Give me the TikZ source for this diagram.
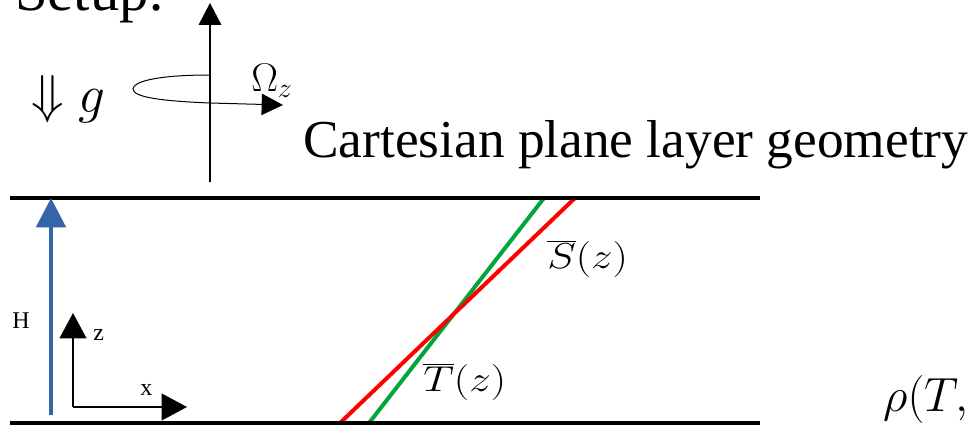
\RequirePackage{fix-cm}
\documentclass[tikz,border=0pt]{standalone}
\usepackage{fontspec}
\setmainfont{Liberation Serif}
\usetikzlibrary{arrows.meta}
\definecolor{hblue}{RGB}{54,100,168}
\definecolor{sgreen}{RGB}{0,166,60}
\definecolor{tred}{RGB}{255,0,0}
\begin{document}
\begin{tikzpicture}[x=0.75pt,y=-0.75pt,
  plate/.style={line width=3pt,black},
  profile/.style={line width=3pt,line cap=butt},
  harrow/.style={line width=3pt,hblue,-{Triangle[width=22pt,length=22pt]}},
  axisarrow/.style={line width=1.5pt,-{Triangle[width=20pt,length=19pt]}},
  rotaxis/.style={line width=1pt,-{Triangle[width=17pt,length=16.5pt]}},
  rotloop/.style={line width=0.75pt,-{Triangle[width=16pt,length=16pt]}},
  lbl/.style={inner sep=0pt,anchor=base west}]
\useasboundingbox (0,0) rectangle (977,428);
\clip (0,0) rectangle (977,428);
% coordinates
\coordinate (tl) at (10,198); \coordinate (tr) at (760,198);
\coordinate (bl) at (10,423); \coordinate (br) at (760,423);
\coordinate (hb) at (51,415); \coordinate (ht) at (51,198);
\coordinate (o) at (73,407); \coordinate (zt) at (73,313); \coordinate (xt) at (187,407);
\coordinate (rb) at (210,182); \coordinate (rt) at (210,3);
\coordinate (es) at (210,75); \coordinate (ee) at (283,105);
\coordinate (g1) at (369,423); \coordinate (g2) at (544,198);
\coordinate (r1) at (340,423); \coordinate (r2) at (575,198);
% profiles
\draw[profile,sgreen] (g1) -- (g2);
\draw[profile,tred] (r1) -- (r2);
% plates
\draw[plate] (tl) -- (tr);
\draw[plate] (bl) -- (br);
% height arrow
\draw[harrow] (hb) -- (ht);
% axes
\draw[axisarrow] (o) -- (zt);
\draw[axisarrow] (o) -- (xt);
% rotation
\draw[rotloop] (es) .. controls (155,75) and (133,82) .. (133,89)
  .. controls (133,97) and (160,101) .. (210,103) -- (ee);
\draw[rotaxis] (rb) -- (rt);
% labels
\node[lbl,font=\fontsize{44pt}{48pt}\selectfont] (setup) at (15,11) {Setup:};
\node[lbl,font=\fontsize{40pt}{44pt}\selectfont] (g) at (31,113) {$\Downarrow g$};
\node[lbl,font=\fontsize{30pt}{32pt}\selectfont] (om) at (251,91) {$\Omega_z$};
\node[lbl,font=\fontsize{40pt}{44pt}\selectfont] (title) at (303,157) {Cartesian plane layer geometry};
\node[lbl,font=\fontsize{18pt}{20pt}\selectfont] (H) at (12,328) {H};
\node[lbl,font=\fontsize{18pt}{20pt}\selectfont] (zl) at (93,340) {z};
\node[lbl,font=\fontsize{18pt}{20pt}\selectfont] (xl) at (140,395) {x};
\node[lbl,xscale=1.2,font=\fontsize{27pt}{30pt}\selectfont] (S) at (547,268) {$\overline{S}(z)$};
\node[lbl,xscale=1.2,font=\fontsize{27pt}{30pt}\selectfont] (T) at (423,391) {$\overline{T}(z)$};
\node[lbl,font=\fontsize{36pt}{40pt}\selectfont] (rho) at (883,411) {$\rho(T,$};
\end{tikzpicture}
\end{document}
